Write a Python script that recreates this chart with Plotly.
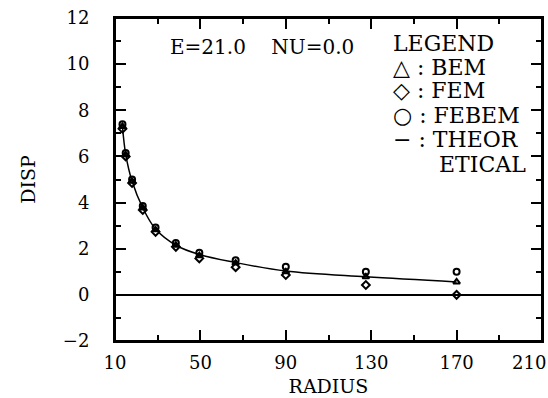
import plotly.graph_objects as go

radius = [13.5, 15, 18, 23, 29, 38.5, 49.5, 66.5, 90, 127.5, 170]
bem = [7.3, 6.07, 4.92, 3.77, 2.82, 2.15, 1.7, 1.38, 1.0, 0.78, 0.56]
fem = [7.2, 6.0, 4.85, 3.68, 2.73, 2.08, 1.58, 1.2, 0.86, 0.43, 0.0]
febem = [7.4, 6.15, 5.0, 3.85, 2.92, 2.25, 1.82, 1.5, 1.22, 1.0, 1.0]
theory = [7.3, 6.1, 4.92, 3.77, 2.85, 2.15, 1.75, 1.4, 1.03, 0.78, 0.56]

x_ticks = [10, 50, 90, 130, 170, 210]
x_labels = ["10", "50", "90", "130", "170", ""]
y_ticks = [-2, 0, 2, 4, 6, 8, 10, 12]
y_labels = ["−2", "0", "2", "4", "6", "8", "10", "12"]

FONT = "DejaVu Serif"
W, H = 548, 398
ML, MR, MT, MB = 115, 6, 18, 57

fig = go.Figure()
fig.add_trace(go.Scatter(x=radius, y=theory, mode="lines", line=dict(color="black", width=1.5, shape="spline"),
                         name="THEORETICAL"))
fig.add_trace(go.Scatter(x=radius, y=bem, mode="markers",
                         marker=dict(symbol="triangle-up-open", size=6, color="black", line=dict(width=2)),
                         name="BEM"))
fig.add_trace(go.Scatter(x=radius, y=fem, mode="markers",
                         marker=dict(symbol="diamond-open", size=6, color="black", line=dict(width=2)),
                         name="FEM"))
fig.add_trace(go.Scatter(x=radius, y=febem, mode="markers",
                         marker=dict(symbol="circle-open", size=6, color="black", line=dict(width=2)),
                         name="FEBEM"))

axis_common = dict(showline=True, linecolor="black", linewidth=2, mirror="ticks", ticks="inside",
                   tickcolor="black", tickwidth=1.5, showgrid=False, automargin=False, ticklen=11,
                   ticklabeloverflow="allow",
                   tickfont=dict(family=FONT, size=18, color="black"))

fig.update_xaxes(range=[10, 210], tickvals=x_ticks, ticktext=x_labels, zeroline=False,
                 ticklabelstandoff=4,
                 minor=dict(dtick=20, tick0=10, ticklen=6, ticks="inside", tickcolor="black", tickwidth=1.5),
                 title=dict(text="RADIUS", font=dict(family=FONT, size=19, color="black"), standoff=8),
                 **axis_common)
fig.update_yaxes(range=[-2, 12], tickvals=y_ticks, ticktext=y_labels, zeroline=True, zerolinecolor="black",
                 zerolinewidth=1.5, ticklabelstandoff=20,
                 minor=dict(dtick=1, tick0=0, ticklen=6, ticks="inside", tickcolor="black", tickwidth=1.5),
                 title=dict(text="DISP", font=dict(family=FONT, size=19, color="black"), standoff=22),
                 **axis_common)

# plot frame
fig.add_shape(type="rect", xref="paper", yref="paper", x0=0, y0=0, x1=1, y1=1,
              line=dict(color="black", width=2), layer="above")

ann_font = dict(family=FONT, size=20, color="black")
leg_font = dict(family=FONT, size=22, color="black")
# (screen x, screen y, text, font)
annotations = [
    (168, 47, "E=21.0&nbsp;&nbsp;&nbsp;&nbsp;NU=0.0", ann_font),
    (391, 43, "LEGEND", leg_font),
    (391, 67, "△ : BEM", leg_font),
    (391, 91, "◇ : FEM", leg_font),
    (391, 115, "○ : FEBEM", leg_font),
    (391, 140, "− : THEOR", leg_font),
    (437, 164, "ETICAL", leg_font),
    (510, 362, "210", dict(family=FONT, size=18, color="black")),
]
pw, ph = W - ML - MR, H - MT - MB
for sx, sy, txt, f in annotations:
    fig.add_annotation(x=(sx - ML) / pw, y=1 - (sy - MT) / ph, xref="paper", yref="paper",
                       text=txt, xanchor="left", yanchor="middle", showarrow=False, font=f)

fig.update_layout(width=W, height=H, margin=dict(l=ML, r=MR, t=MT, b=MB),
                  paper_bgcolor="white", plot_bgcolor="white", showlegend=False)

fig.write_html("out.html", config={"displayModeBar": False},
               post_script="document.body.style.margin='0';document.body.style.overflow='hidden';")
